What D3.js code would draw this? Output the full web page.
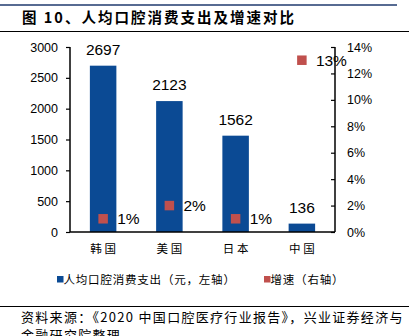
<!DOCTYPE html>
<html><head><meta charset="utf-8">
<script src="https://cdn.jsdelivr.net/npm/d3@7"></script>
<style>
html,body{margin:0;padding:0;background:#fff;}
svg{display:block;}
</style></head>
<body>
<svg id="c" width="409" height="336"></svg>
<script>
const categories = ["韩国","美国","日本","中国"];
const spending = [2697, 2123, 1562, 136];
const growth = [1, 2, 1, 13];
const leftTicks = [0,500,1000,1500,2000,2500,3000];
const rightTicks = [0,2,4,6,8,10,12,14];
const title = "图 10、人均口腔消费支出及增速对比";
const legendLabels = ["人均口腔消费支出（元，左轴）","增速（右轴）"];
const sourceLines = ["资料来源：《2020 中国口腔医疗行业报告》，兴业证券经济与","金融研究院整理"];

const svg = d3.select("#c");
const cjk = "'Noto Sans CJK SC', sans-serif";
const num = "'Liberation Sans', Arial, sans-serif";
const blue = "#0B4A94", red = "#C0504D";

const L = 70, R = 335, T = 47, B = 232;
const x = d3.scaleBand().domain(categories).range([L, R]).paddingInner(0.6).paddingOuter(0.3);
const yL = d3.scaleLinear().domain([0, 3000]).range([B, T]);
const yR = d3.scaleLinear().domain([0, 14]).range([B, T]);

// header lines
svg.append("line").attr("x1",0).attr("x2",397).attr("y1",5).attr("y2",5).attr("stroke","#1F3A6E").attr("stroke-width",1.5);
svg.append("text").attr("x",22).attr("y",23).attr("font-family",cjk).attr("font-weight","bold")
  .attr("font-size",14.5).attr("letter-spacing",2).attr("fill","#000").text(title);
svg.append("line").attr("x1",0).attr("x2",409).attr("y1",31.5).attr("y2",31.5).attr("stroke","#000").attr("stroke-width",1.2);

// bars
svg.selectAll("rect.bar").data(spending).enter().append("rect").attr("class","bar")
  .attr("x",(d,i)=>x(categories[i])).attr("width",x.bandwidth())
  .attr("y",d=>yL(d)).attr("height",d=>B-yL(d)).attr("fill",blue);
svg.selectAll("text.val").data(spending).enter().append("text").attr("class","val")
  .attr("x",(d,i)=>x(categories[i])+x.bandwidth()/2).attr("y",d=>yL(d)-11)
  .attr("text-anchor","middle").attr("font-family",num).attr("font-size",15.5).attr("fill","#000").text(d=>d);

// markers
const ms = 9.5;
svg.selectAll("rect.mk").data(growth).enter().append("rect").attr("class","mk")
  .attr("x",(d,i)=>x(categories[i])+x.bandwidth()/2-ms/2).attr("y",d=>yR(d)-ms/2)
  .attr("width",ms).attr("height",ms).attr("fill",red);
svg.selectAll("text.pct").data(growth).enter().append("text").attr("class","pct")
  .attr("x",(d,i)=>x(categories[i])+x.bandwidth()/2+14).attr("y",d=>yR(d)+5.5)
  .attr("font-family",num).attr("font-size",15.5).attr("fill","#000").text(d=>d+"%");

// axes
const axL = d3.axisLeft(yL).tickValues(leftTicks).tickSize(4).tickPadding(8).tickFormat(d3.format("d"));
const gL = svg.append("g").attr("transform",`translate(${L},0)`).call(axL);
const axR = d3.axisRight(yR).tickValues(rightTicks).tickSize(-4).tickPadding(12).tickFormat(d=>d+"%");
const gR = svg.append("g").attr("transform",`translate(${R},0)`).call(axR);
[gL,gR].forEach(g=>{
  g.select(".domain").remove();
  g.selectAll(".tick line").attr("stroke","#000").attr("stroke-width",1.2);
  g.selectAll(".tick text").attr("font-family",num).attr("font-size",12.5).attr("fill","#000");
});
// frame lines
svg.append("line").attr("x1",L).attr("x2",L).attr("y1",T).attr("y2",B).attr("stroke","#000").attr("stroke-width",1.5);
svg.append("line").attr("x1",R).attr("x2",R).attr("y1",T).attr("y2",B).attr("stroke","#000").attr("stroke-width",1.5);
svg.append("line").attr("x1",L).attr("x2",R).attr("y1",B).attr("y2",B).attr("stroke","#000").attr("stroke-width",1.5);

// category labels
svg.selectAll("text.cat").data(categories).enter().append("text").attr("class","cat")
  .attr("x",d=>x(d)+x.bandwidth()/2+1.5).attr("y",253).attr("text-anchor","middle")
  .attr("font-family",cjk).attr("font-size",11.5).attr("letter-spacing",3).attr("fill","#000").text(d=>d);

// legend
const lg = [{x:57, c:blue, t:legendLabels[0]},{x:264, c:red, t:legendLabels[1]}];
lg.forEach(o=>{
  svg.append("rect").attr("x",o.x).attr("y",276).attr("width",6.5).attr("height",6.5).attr("fill",o.c);
  svg.append("text").attr("x",o.x+6.5).attr("y",283.5).attr("font-family",cjk).attr("font-size",11.5)
    .attr("letter-spacing",0.8).attr("fill","#000").text(o.t);
});

// footer
svg.append("line").attr("x1",0).attr("x2",409).attr("y1",306.5).attr("y2",306.5).attr("stroke","#000").attr("stroke-width",1.2);
svg.append("text").attr("x",21).attr("y",322).attr("font-family",cjk).attr("font-size",13)
  .attr("letter-spacing",1.3).attr("fill","#000").text(sourceLines[0]);
svg.append("text").attr("x",21).attr("y",340).attr("font-family",cjk).attr("font-size",13)
  .attr("letter-spacing",1.3).attr("fill","#000").text(sourceLines[1]);
</script>
</body></html>
